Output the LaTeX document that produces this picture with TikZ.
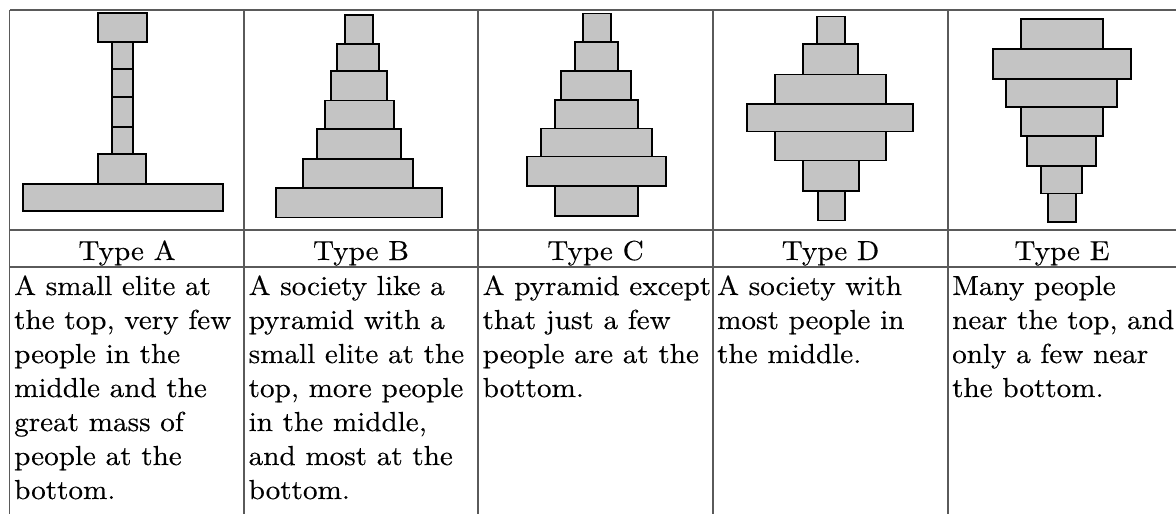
\documentclass[tikz,border=0pt]{standalone}
\usepackage{fontspec}
\setmainfont{lmroman10-regular.otf}[FakeStretch=1.06,FakeBold=0.3]
\definecolor{boxgray}{HTML}{C4C4C4}
\definecolor{rulegray}{HTML}{5A5A5A}
\tikzset{
  blk/.style={draw=black, fill=boxgray, line width=1.6pt},
  rulel/.style={draw=rulegray, line width=1.1pt},
  txt/.style={font=\fontsize{27.5}{34}\selectfont, inner sep=0pt, anchor=base west},
  head/.style={font=\fontsize{27.5}{34}\selectfont, inner sep=0pt, anchor=base}
}
\begin{document}
\begin{tikzpicture}[x=1pt,y=-1pt]
\useasboundingbox (0,0) rectangle (1176,514);
% table rules
\draw[rulel] (9.5,10) -- (1176,10);
\draw[rulel] (9.5,230) -- (1176,230);
\draw[rulel] (9.5,267) -- (1176,267);
\foreach \xx in {9.5,244,478,713,948} \draw[rulel] (\xx,10) -- (\xx,514);
% Type A
\draw[blk] (98,13) rectangle (147,42);
\draw[blk] (112,42) rectangle (133,69);
\draw[blk] (112,69) rectangle (133,97);
\draw[blk] (112,97) rectangle (133,127);
\draw[blk] (112,127) rectangle (133,154);
\draw[blk] (98,154) rectangle (146,184);
\draw[blk] (23,184) rectangle (223,211);
% Type B
\draw[blk] (345,15) rectangle (373,44);
\draw[blk] (337,44) rectangle (379,71);
\draw[blk] (331,71) rectangle (387,100.5);
\draw[blk] (325,100.5) rectangle (394,129);
\draw[blk] (317,129) rectangle (401,159);
\draw[blk] (303,159) rectangle (413,188);
\draw[blk] (276,188) rectangle (442,217.5);
% Type C
\draw[blk] (583,13.5) rectangle (611,42);
\draw[blk] (575,42) rectangle (618,71);
\draw[blk] (561,71) rectangle (631,100);
\draw[blk] (555,100) rectangle (638,128.5);
\draw[blk] (541,128.5) rectangle (652,156.5);
\draw[blk] (527,156.5) rectangle (666,186);
\draw[blk] (555,186) rectangle (638,216);
% Type D
\draw[blk] (817,16.5) rectangle (845,44);
\draw[blk] (803,44) rectangle (858,74.5);
\draw[blk] (775,74.5) rectangle (886,104);
\draw[blk] (747,104) rectangle (913,131.5);
\draw[blk] (775,131.5) rectangle (886,160.5);
\draw[blk] (803,160.5) rectangle (859,191);
\draw[blk] (818,191) rectangle (845,220.5);
% Type E
\draw[blk] (1021,19) rectangle (1103,49);
\draw[blk] (993,49) rectangle (1131,79);
\draw[blk] (1006,79) rectangle (1117,107);
\draw[blk] (1021,107) rectangle (1103,136);
\draw[blk] (1027,136) rectangle (1096,166);
\draw[blk] (1041,166) rectangle (1082,193.5);
\draw[blk] (1048,193.5) rectangle (1076,222);
% headers
\node[head] (hA) at (127,260) {Type A};
\node[head] (hB) at (361,260) {Type B};
\node[head] (hC) at (595.5,260) {Type C};
\node[head] (hD) at (830.5,260) {Type D};
\node[head] (hE) at (1062,260) {Type E};
% descriptions
\foreach \t [count=\i] in {{A small elite at},{the top, very few},{people in the},{middle and the},{great mass of},{people at the},{bottom.}}
  \node[txt] (dA\i) at (14,{295+34*(\i-1)}) {\t};
\foreach \t [count=\i] in {{A society like a},{pyramid with a},{small elite at the},{top, more people},{in the middle,},{and most at the},{bottom.}}
  \node[txt] (dB\i) at (248.5,{295+34*(\i-1)}) {\t};
\foreach \t [count=\i] in {{A pyramid except},{that just a few},{people are at the},{bottom.}}
  \node[txt] (dC\i) at (482.5,{295+34*(\i-1)}) {\t};
\foreach \t [count=\i] in {{A society with},{most people in},{the middle.}}
  \node[txt] (dD\i) at (717,{295+34*(\i-1)}) {\t};
\foreach \t [count=\i] in {{Many people},{near the top, and},{only a few near},{the bottom.}}
  \node[txt] (dE\i) at (952,{295+34*(\i-1)}) {\t};
\end{tikzpicture}
\end{document}
